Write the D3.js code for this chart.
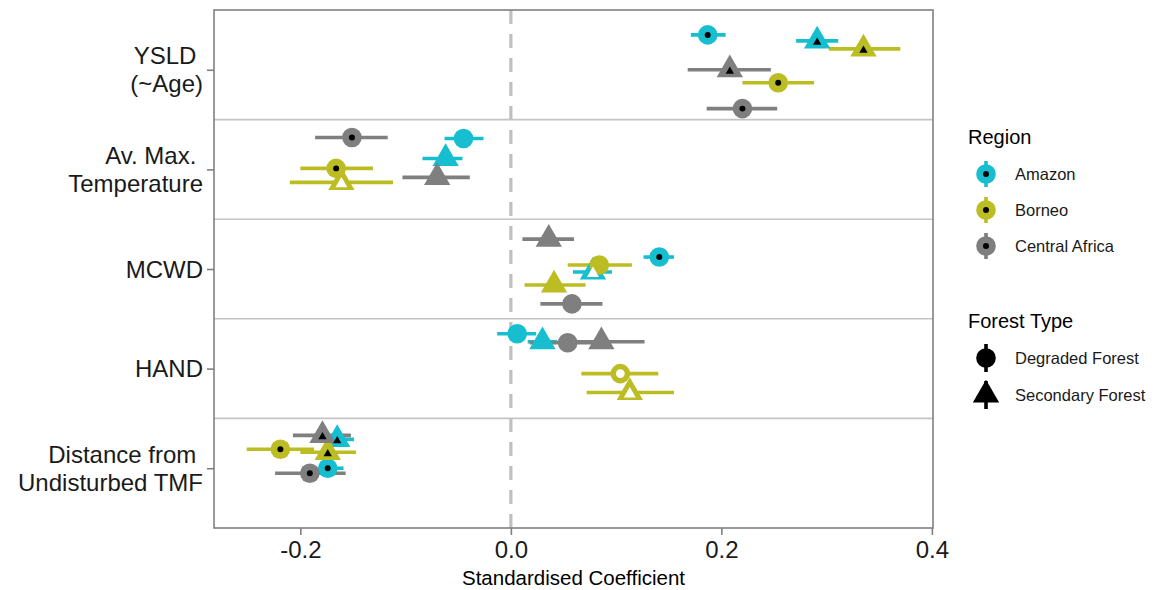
<!DOCTYPE html>
<html>
<head>
<meta charset="utf-8">
<script src="https://cdn.jsdelivr.net/npm/d3@7"></script>
<style>
body { margin: 0; background: #fff; font-family: "Liberation Sans", Arial, sans-serif; }
text { white-space: pre; }
</style>
</head>
<body>
<svg id="chart" width="1154" height="590"></svg>
<script>
// predictors, top to bottom (the first lines keep their trailing space like the original)
var variables = [["YSLD ", "(~Age)"], ["Av. Max. ", "Temperature"], ["MCWD"], ["HAND"], ["Distance from ", "Undisturbed TMF"]];
var regions = ["Amazon", "Borneo", "Central Africa"];
var forestTypes = ["Degraded Forest", "Secondary Forest"];
var xTicks = [-0.2, 0, 0.2, 0.4];

// one row per predictor: estimate, lower, upper, jitter (in predictor units), sig
// sig: 2 = black centre, 1 = white centre, 0 = plain
var amazonDeg = [
    [0.187, 0.171, 0.204, -0.35, 2],
    [-0.045, -0.063, -0.026, -0.31, 0],
    [0.141, 0.126, 0.155, -0.12, 2],
    [0.006, -0.013, 0.024, -0.35, 0],
    [-0.174, -0.183, -0.159, 0.00, 2]
];
var amazonSec = [
    [0.291, 0.271, 0.311, -0.29, 2],
    [-0.062, -0.084, -0.046, -0.11, 0],
    [0.078, 0.059, 0.096, 0.03, 1],
    [0.030, 0.016, 0.044, -0.27, 0],
    [-0.165, -0.180, -0.149, -0.29, 2]
];
var borneoDeg = [
    [0.254, 0.220, 0.288, 0.13, 2],
    [-0.166, -0.200, -0.131, -0.01, 2],
    [0.084, 0.054, 0.115, -0.04, 0],
    [0.104, 0.067, 0.140, 0.05, 1],
    [-0.219, -0.251, -0.187, -0.19, 2]
];
var borneoSec = [
    [0.335, 0.302, 0.370, -0.21, 2],
    [-0.161, -0.210, -0.112, 0.13, 1],
    [0.041, 0.013, 0.071, 0.16, 0],
    [0.113, 0.072, 0.155, 0.24, 1],
    [-0.174, -0.200, -0.147, -0.16, 2]
];
var africaDeg = [
    [0.220, 0.186, 0.253, 0.39, 2],
    [-0.151, -0.186, -0.117, -0.32, 2],
    [0.058, 0.028, 0.087, 0.35, 0],
    [0.054, 0.018, 0.090, -0.26, 0],
    [-0.191, -0.224, -0.157, 0.05, 2]
];
var africaSec = [
    [0.208, 0.168, 0.247, 0.00, 2],
    [-0.070, -0.103, -0.039, 0.08, 0],
    [0.036, 0.011, 0.060, -0.30, 0],
    [0.086, 0.045, 0.127, -0.27, 0],
    [-0.179, -0.207, -0.152, -0.33, 2]
];

var regionCol = d3.scaleOrdinal().domain(regions).range(["#17becf", "#bcbd22", "#7f7f7f"]);

// flatten into rows the way the plotting layer wants them
var series = [
    {region: "Amazon", type: "Degraded Forest", rows: amazonDeg},
    {region: "Amazon", type: "Secondary Forest", rows: amazonSec},
    {region: "Borneo", type: "Degraded Forest", rows: borneoDeg},
    {region: "Borneo", type: "Secondary Forest", rows: borneoSec},
    {region: "Central Africa", type: "Degraded Forest", rows: africaDeg},
    {region: "Central Africa", type: "Secondary Forest", rows: africaSec}
];
var data = [];
series.forEach(function(s) {
    s.rows.forEach(function(r, i) {
        data.push({region: s.region, type: s.type, v: i + 1,
            est: r[0], lo: r[1], hi: r[2], jit: r[3], sig: r[4]});
    });
});

var svg = d3.select('#chart');
// NB: don't call these top/left, window.top is read-only
var pLeft = 214, pRight = 933, pTop = 10, pBottom = 528;

// x domain = range of the intervals plus 5% either side, like ggplot
var ext = [d3.min(data, function(d) { return d.lo; }), d3.max(data, function(d) { return d.hi; })];
var pad = (ext[1] - ext[0]) * 0.05;
var x = d3.scaleLinear().domain([ext[0] - pad, ext[1] + pad]).range([pLeft, pRight]);
var y = d3.scaleLinear().domain([0.4, variables.length + 0.6]).range([pTop, pBottom]);

// separators between predictors
svg.append('g').selectAll('line')
    .data(d3.range(1.5, variables.length, 1))
  .enter().append('line')
    .attr('x1', pLeft).attr('x2', pRight)
    .attr('y1', function(d) { return y(d); })
    .attr('y2', function(d) { return y(d); })
    .style('stroke', '#c4c4c4').style('stroke-width', 1.6);

// zero line
svg.append('line')
    .attr('x1', x(0)).attr('x2', x(0))
    .attr('y1', pTop).attr('y2', pBottom)
    .style('stroke', '#c0c0c0').style('stroke-width', 3.2)
    .style('stroke-dasharray', '14,10');

// intervals first, then points (as geom_pointrange does)
svg.append('g').selectAll('line')
    .data(data)
  .enter().append('line')
    .attr('x1', function(d) { return x(d.lo); })
    .attr('x2', function(d) { return x(d.hi); })
    .attr('y1', function(d) { return y(d.v + d.jit); })
    .attr('y2', function(d) { return y(d.v + d.jit); })
    .style('stroke', function(d) { return regionCol(d.region); })
    .style('stroke-width', 3.6);

var bigCircle = d3.symbol().type(d3.symbolCircle).size(Math.PI * 9.8 * 9.8);
var bigTri = d3.symbol().type(d3.symbolTriangle).size(300);
var shapeFor = function(d) { return d.type == "Degraded Forest" ? bigCircle() : bigTri(); };

svg.append('g').selectAll('path')
    .data(data)
  .enter().append('path')
    .attr('d', shapeFor)
    .attr('transform', function(d) { return 'translate(' + x(d.est) + ',' + y(d.v + d.jit) + ')'; })
    .style('fill', function(d) { return regionCol(d.region); });

// small centre marks
var innerShape = function(d) {
    if (d.type == "Degraded Forest") {
        return d3.symbol().type(d3.symbolCircle).size(d.sig == 2 ? 28 : 60)();
    }
    return d3.symbol().type(d3.symbolTriangle).size(d.sig == 2 ? 30 : 62)();
};
svg.append('g').selectAll('path')
    .data(data.filter(function(d) { return d.sig > 0; }))
  .enter().append('path')
    .attr('d', innerShape)
    .attr('transform', function(d) {
        var dy = d.type == "Degraded Forest" ? 0 : 1.5;
        return 'translate(' + x(d.est) + ',' + (y(d.v + d.jit) + dy) + ')';
    })
    .style('fill', function(d) { return d.sig == 2 ? '#000' : '#fff'; });

// panel border
svg.append('rect')
    .attr('x', pLeft).attr('y', pTop)
    .attr('width', pRight - pLeft).attr('height', pBottom - pTop)
    .style('fill', 'none').style('stroke', '#808080').style('stroke-width', 1.6);

// x axis
var xAxis = svg.append('g')
    .attr('transform', 'translate(0,' + pBottom + ')')
    .call(d3.axisBottom(x).tickValues(xTicks).tickSize(7).tickPadding(6)
        .tickFormat(function(d) { return d3.format('.1f')(d).replace('\u2212', '-'); }));
xAxis.select('.domain').remove();
xAxis.selectAll('line').style('stroke', '#808080').style('stroke-width', 1.6);
xAxis.selectAll('text').style('font-family', '"Liberation Sans", Arial, sans-serif')
    .style('font-size', '24px').style('fill', '#1a1a1a');

svg.append('text')
    .attr('x', (pLeft + pRight) / 2).attr('y', 585)
    .attr('text-anchor', 'middle')
    .style('font-size', '20.5px').style('fill', '#000')
    .text('Standardised Coefficient');

// y axis: ticks from the axis, labels as multi-line text
var yAxis = svg.append('g')
    .attr('transform', 'translate(' + pLeft + ',0)')
    .call(d3.axisLeft(y).tickValues(d3.range(1, variables.length + 1)).tickSize(7).tickFormat(''));
yAxis.select('.domain').remove();
yAxis.selectAll('line').style('stroke', '#808080').style('stroke-width', 1.6);

var yLab = svg.append('g').selectAll('text')
    .data(variables)
  .enter().append('text')
    .attr('text-anchor', 'end')
    .style('font-size', '24px').style('fill', '#1a1a1a');
yLab.each(function(lines, i) {
    var t = d3.select(this);
    var n = lines.length;
    lines.forEach(function(s, k) {
        t.append('tspan')
            .attr('x', 203)
            .attr('y', y(i + 1) + (k - (n - 1) / 2) * 28 + 8.5)
            .text(s);
    });
});

// legends
var legend = svg.append('g');
legend.append('text').attr('x', 968).attr('y', 144)
    .style('font-size', '20px').text('Region');
var regItems = legend.selectAll('.reg')
    .data(regions)
  .enter().append('g')
    .attr('class', 'reg')
    .attr('transform', function(d, i) { return 'translate(986,' + (174 + i * 36) + ')'; });
regItems.append('line').attr('y1', -13).attr('y2', 13)
    .style('stroke', function(d) { return regionCol(d); }).style('stroke-width', 3.6);
regItems.append('path').attr('d', bigCircle).style('fill', function(d) { return regionCol(d); });
regItems.append('circle').attr('r', 3).style('fill', '#000');
regItems.append('text').attr('x', 29).attr('y', 6)
    .style('font-size', '16.5px').style('fill', '#1a1a1a')
    .text(function(d) { return d; });

legend.append('text').attr('x', 968).attr('y', 328)
    .style('font-size', '20px').text('Forest Type');
var typeItems = legend.selectAll('.ftype')
    .data(forestTypes)
  .enter().append('g')
    .attr('class', 'ftype')
    .attr('transform', function(d, i) { return 'translate(986,' + (358 + i * 37) + ')'; });
typeItems.append('line').attr('y1', -14).attr('y2', 14)
    .style('stroke', '#000').style('stroke-width', 3.6);
typeItems.append('path')
    .attr('d', function(d) { return d == "Degraded Forest" ? bigCircle() : bigTri(); })
    .style('fill', '#000');
typeItems.append('text').attr('x', 29).attr('y', 6)
    .style('font-size', '16.5px').style('fill', '#1a1a1a')
    .text(function(d) { return d; });
</script>
</body>
</html>
